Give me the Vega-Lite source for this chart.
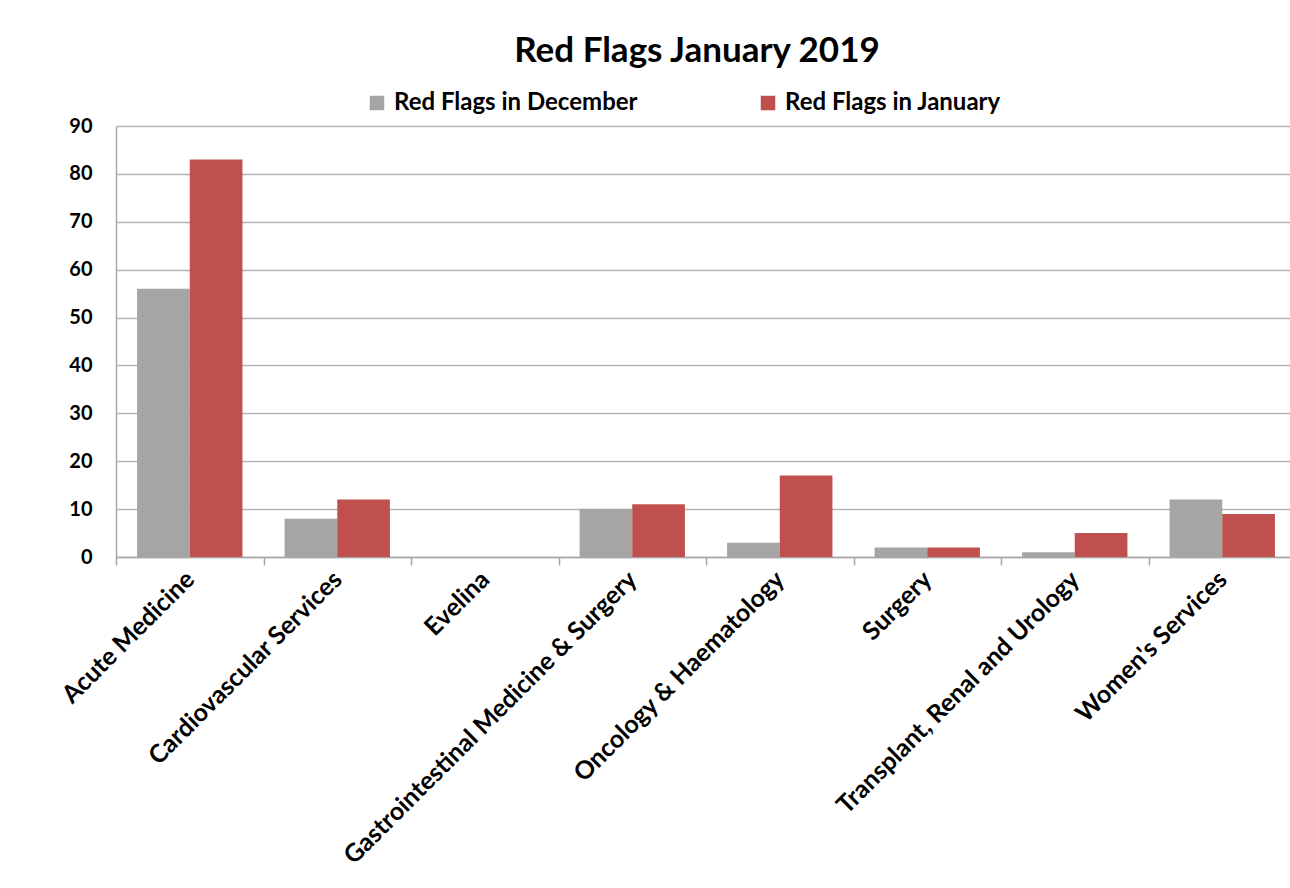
{
  "$schema": "https://vega.github.io/schema/vega-lite/v6.json",
  "width": 1180,
  "height": 431,
  "autosize": {"type": "none"},
  "padding": {"left": 116, "top": 126, "right": 0, "bottom": 331},
  "background": "white",
  "title": {
    "text": "Red Flags January 2019",
    "font": "Lato",
    "fontSize": 35,
    "fontWeight": "bold",
    "color": "#000000",
    "anchor": "middle",
    "dx": -9,
    "offset": 22
  },
  "data": {
    "values": [
      {"category": "Acute Medicine", "series": "Red Flags in December", "value": 56},
      {"category": "Acute Medicine", "series": "Red Flags in January", "value": 83},
      {"category": "Cardiovascular Services", "series": "Red Flags in December", "value": 8},
      {"category": "Cardiovascular Services", "series": "Red Flags in January", "value": 12},
      {"category": "Evelina", "series": "Red Flags in December", "value": 0},
      {"category": "Evelina", "series": "Red Flags in January", "value": 0},
      {"category": "Gastrointestinal Medicine & Surgery", "series": "Red Flags in December", "value": 10},
      {"category": "Gastrointestinal Medicine & Surgery", "series": "Red Flags in January", "value": 11},
      {"category": "Oncology & Haematology", "series": "Red Flags in December", "value": 3},
      {"category": "Oncology & Haematology", "series": "Red Flags in January", "value": 17},
      {"category": "Surgery", "series": "Red Flags in December", "value": 2},
      {"category": "Surgery", "series": "Red Flags in January", "value": 2},
      {"category": "Transplant, Renal and Urology", "series": "Red Flags in December", "value": 1},
      {"category": "Transplant, Renal and Urology", "series": "Red Flags in January", "value": 5},
      {"category": "Women's Services", "series": "Red Flags in December", "value": 12},
      {"category": "Women's Services", "series": "Red Flags in January", "value": 9}
    ]
  },
  "mark": {"type": "bar"},
  "encoding": {
    "x": {
      "field": "category",
      "type": "nominal",
      "sort": null,
      "title": null,
      "scale": {"paddingInner": 0, "paddingOuter": 0},
      "axis": {
        "labelAngle": -45,
        "labelAlign": "right",
        "labelBaseline": "middle",
        "labelFont": "Lato",
        "labelFontSize": 25,
        "labelFontWeight": "bold",
        "labelColor": "#000000",
        "labelPadding": 10,
        "labelLimit": 600,
        "tickBand": "extent",
        "ticks": true,
        "tickSize": 8,
        "tickColor": "#a6a6a6",
        "tickWidth": 1.5,
        "domainColor": "#a6a6a6",
        "domainWidth": 1.5,
        "grid": false
      }
    },
    "xOffset": {
      "field": "series",
      "type": "nominal",
      "scale": {"paddingInner": 0, "paddingOuter": 0.4}
    },
    "y": {
      "field": "value",
      "type": "quantitative",
      "title": null,
      "scale": {"domain": [0, 90], "nice": false},
      "axis": {
        "values": [0, 10, 20, 30, 40, 50, 60, 70, 80, 90],
        "labelFont": "Lato",
        "labelFontSize": 20,
        "labelFontWeight": "bold",
        "labelColor": "#000000",
        "labelPadding": 24,
        "ticks": false,
        "domainColor": "#a6a6a6",
        "domainWidth": 1.5,
        "grid": true,
        "gridColor": "#b3b3b3",
        "gridWidth": 1.5
      }
    },
    "color": {
      "field": "series",
      "type": "nominal",
      "scale": {
        "domain": ["Red Flags in December", "Red Flags in January"],
        "range": ["#a5a5a5", "#c0504d"]
      },
      "legend": {
        "title": null,
        "orient": "none",
        "direction": "horizontal",
        "legendX": 249,
        "legendY": -35,
        "symbolType": "square",
        "symbolSize": 210,
        "symbolStrokeWidth": 0,
        "labelFont": "Lato",
        "labelFontSize": 24,
        "labelFontWeight": "bold",
        "labelColor": "#000000",
        "labelOffset": 5,
        "labelLimit": 400,
        "columnPadding": 118
      }
    }
  },
  "config": {
    "view": {"stroke": null},
    "axis": {"labelOverlap": false}
  }
}
